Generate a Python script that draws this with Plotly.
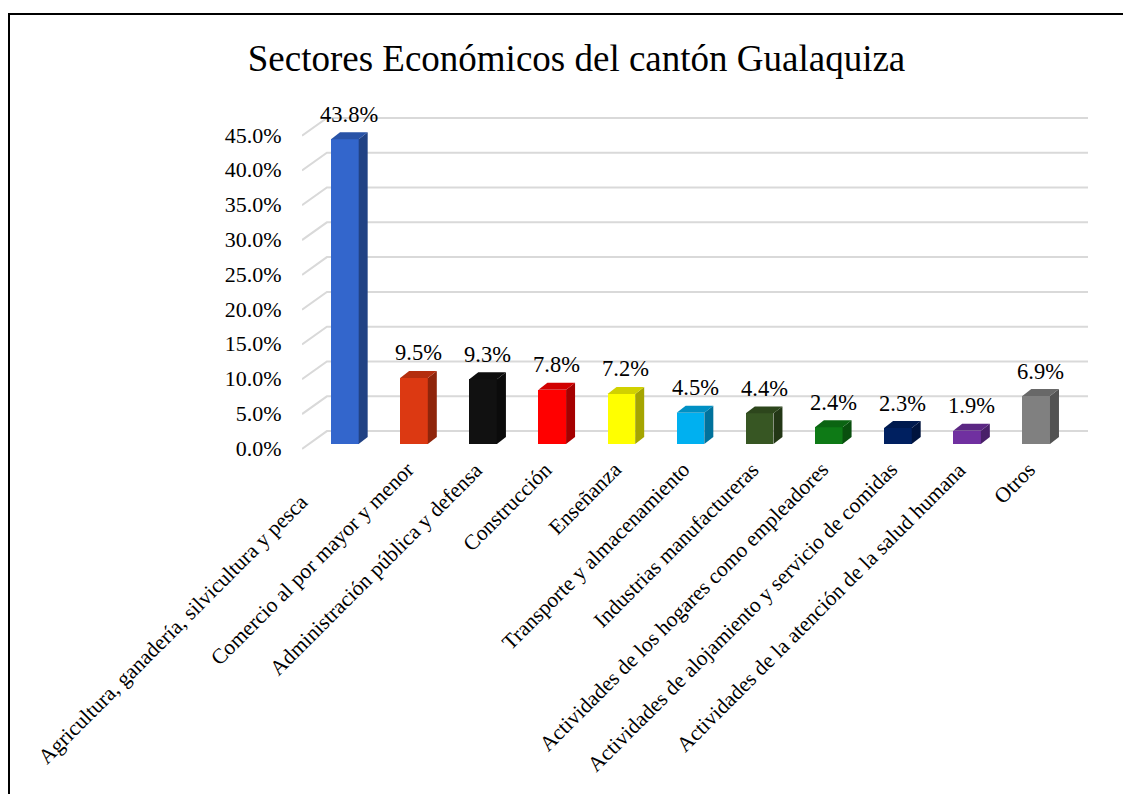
import plotly.graph_objects as go

# ---- data ----
categories = [
    "Agricultura, ganadería, silvicultura y pesca",
    "Comercio al por mayor y menor",
    "Administración pública y defensa",
    "Construcción",
    "Enseñanza",
    "Transporte y almacenamiento",
    "Industrias manufactureras",
    "Actividades de los hogares como empleadores",
    "Actividades de alojamiento y servicio de comidas",
    "Actividades de la atención de la salud humana",
    "Otros",
]
values = [43.8, 9.5, 9.3, 7.8, 7.2, 4.5, 4.4, 2.4, 2.3, 1.9, 6.9]
tick_values = [0, 5, 10, 15, 20, 25, 30, 35, 40, 45]
title_text = "Sectores Económicos del cantón Gualaquiza"

# ---- style ----
front_colors = ["#3366CC", "#DC3912", "#111111", "#FF0000", "#FFFF00", "#00B0F0",
                "#375623", "#0E7A16", "#002060", "#7030A0", "#808080"]
FONT = "Liberation Serif, Times New Roman, serif"
OFF = 8                      # page body margin of the html page
W, H = 1131 - OFF, 794 - OFF
L, R, T, B = 294, 43, 92, 324
X_RANGE = [-0.62, 10.75]
Y_RANGE = [-3.736, 49.425]
BAR_W = 0.4
DX, DY = 0.13, 1.0          # depth offset of the bar boxes (x units, y units)
GRID_FRONT, GRID_BACK = -0.7, 1.85
GRID_X0, GRID_X1 = -0.62, -0.26


def shade(hexcol, f):
    h = hexcol.lstrip("#")
    r, g, b = (int(h[i:i + 2], 16) for i in (0, 2, 4))
    return "#%02X%02X%02X" % (int(r * f), int(g * f), int(b * f))


fig = go.Figure()

# back gridlines with perspective diagonal (drawn below the bars)
for t in tick_values:
    path = (f"M {GRID_X0},{t + GRID_FRONT} L {GRID_X1},{t + GRID_BACK} "
            f"L {X_RANGE[1]},{t + GRID_BACK}")
    fig.add_shape(type="path", path=path, xref="x", yref="y", layer="below",
                  line=dict(color="#D9D9D9", width=2))

pos = list(range(len(categories)))

# front faces
fig.add_trace(go.Bar(
    x=pos, y=values, width=BAR_W,
    marker=dict(color=front_colors, line=dict(width=0)),
    hoverinfo="skip", showlegend=False))

# side and top faces
for i, v in enumerate(values):
    c = front_colors[i]
    xr = i + BAR_W / 2
    xl = i - BAR_W / 2
    fig.add_trace(go.Scatter(
        x=[xr, xr + DX, xr + DX, xr, xr],
        y=[0, DY, v + DY, v, 0],
        mode="lines", fill="toself", fillcolor=shade(c, 0.65),
        line=dict(width=0, color=shade(c, 0.65)),
        hoverinfo="skip", showlegend=False))
    fig.add_trace(go.Scatter(
        x=[xl, xr, xr + DX, xl + DX, xl],
        y=[v, v, v + DY, v + DY, v],
        mode="lines", fill="toself", fillcolor=shade(c, 0.82),
        line=dict(width=0, color=shade(c, 0.82)),
        hoverinfo="skip", showlegend=False))

# data labels
for i, v in enumerate(values):
    fig.add_annotation(
        x=i + DX / 2, y=v + DY, xref="x", yref="y",
        text=f"{v:.1f}%", showarrow=False,
        xanchor="center", yanchor="middle", yshift=18,
        font=dict(family=FONT, size=22.5, color="#000000"))

# category labels (rotated)
for i, name in enumerate(categories):
    extra_x, extra_y = (-36, -32) if i == 0 else (0, 0)
    fig.add_annotation(
        x=i, y=0, xref="x", yref="y",
        text=name, showarrow=False, textangle=-45,
        xanchor="right", yanchor="top",
        xshift=7 + extra_x, yshift=-11 + extra_y,
        font=dict(family=FONT, size=21.5, color="#000000"))


def px_x(p):
    return (p - L) / (W - L - R)


def px_y(p):
    return 1 - (p - T) / (H - T - B)


# outer frame (chart border)
fig.add_shape(type="line", xref="paper", yref="paper",
              x0=px_x(0), x1=px_x(W + 10), y0=px_y(6), y1=px_y(6),
              line=dict(color="#000000", width=2))
fig.add_shape(type="line", xref="paper", yref="paper",
              x0=px_x(1), x1=px_x(1), y0=px_y(6), y1=px_y(H + 10),
              line=dict(color="#000000", width=2))

fig.update_layout(
    width=W, height=H,
    margin=dict(l=L, r=R, t=T, b=B, pad=0),
    paper_bgcolor="#FFFFFF", plot_bgcolor="rgba(0,0,0,0)",
    title=dict(text=title_text, x=(576.5 - OFF) / W, xanchor="center",
               y=1 - (58 - OFF) / H, yanchor="middle", yref="container",
               font=dict(family=FONT, size=37, color="#000000")),
    xaxis=dict(range=X_RANGE, showgrid=False, zeroline=False,
               showticklabels=False, showline=False, fixedrange=True),
    yaxis=dict(range=Y_RANGE, showgrid=False, zeroline=False, showline=False,
               tickvals=tick_values, ticktext=[f"{t:.1f}%" for t in tick_values],
               ticks="outside", ticklen=15, tickcolor="rgba(0,0,0,0)",
               ticklabelshift=4,
               tickfont=dict(family=FONT, size=22, color="#000000"),
               fixedrange=True),
    bargap=0,
)

fig.write_html("out.html")
